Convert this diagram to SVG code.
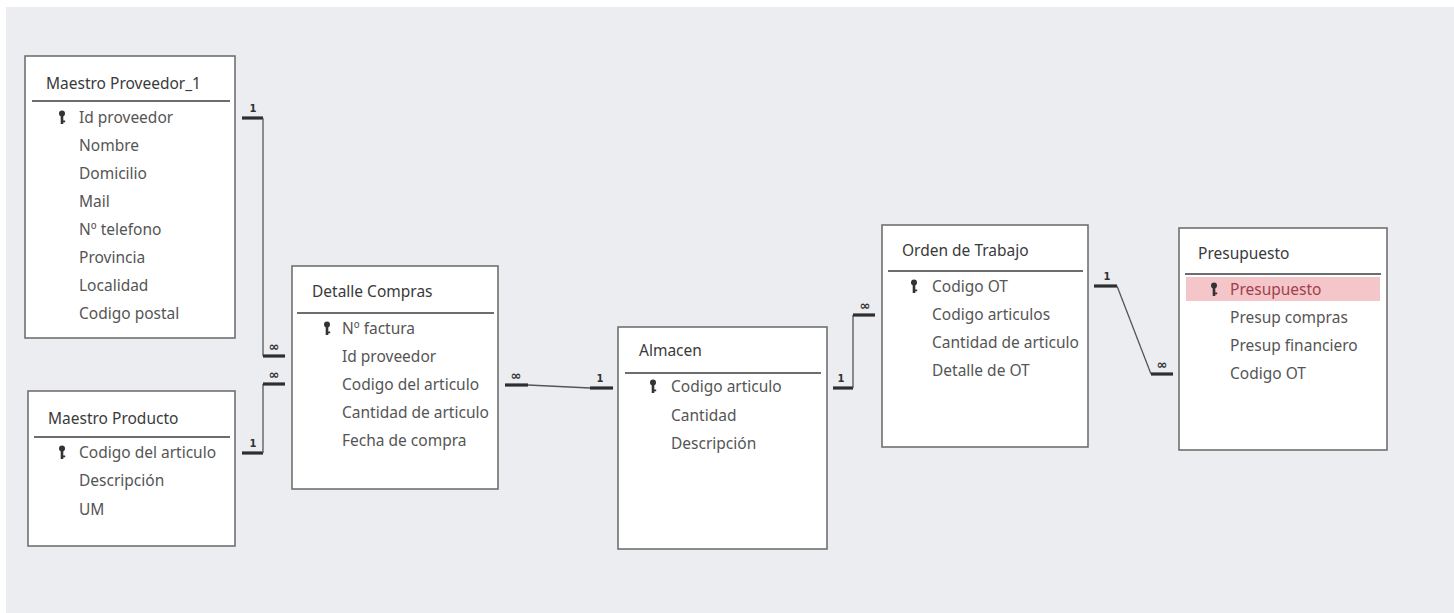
<svg xmlns="http://www.w3.org/2000/svg" width="1454" height="613" viewBox="0 0 1454 613">
<style>
.tbl{fill:#ffffff;stroke:#707070;stroke-width:1.6}
.sep{stroke:#3c3c3c;stroke-width:1.6}
.title{font-family:"Noto Sans","Open Sans",sans-serif;font-size:15.5px;fill:#3a3a3a}
.fld{font-family:"Noto Sans","Open Sans",sans-serif;font-size:15.5px;fill:#555555}
.fldhl{font-family:"Noto Sans","Open Sans",sans-serif;font-size:15.5px;fill:#a0404c}
.key{fill:#333333}
.bar{stroke:#2e2e2e;stroke-width:3.2;fill:none}
.ln{stroke:#555555;stroke-width:1.3;fill:none}
.card{font-family:"DejaVu Sans",sans-serif;font-size:10px;font-weight:bold;fill:#333333;text-anchor:middle}
.inf{font-family:"DejaVu Sans",sans-serif;font-size:13px;font-weight:bold;fill:#333333;text-anchor:middle}
</style>
<defs>
<g id="keyicon">
<circle cx="0" cy="-3.5" r="3" class="key"/>
<rect x="-1.3" y="-1" width="2.6" height="8" class="key"/>
<rect x="1" y="3.5" width="2.2" height="1.8" class="key"/>
</g>
</defs>
<rect x="0" y="0" width="1454" height="613" fill="#ffffff"/>
<rect x="6" y="7" width="1448" height="606" fill="#ecedf1"/>

<g id="maestro-proveedor">
<rect class="tbl" x="25" y="56" width="210" height="282"/>
<text class="title" x="46" y="89">Maestro Proveedor_1</text>
<line class="sep" x1="32" y1="101" x2="230" y2="101"/>
<use href="#keyicon" x="62" y="117"/>
<text class="fld" x="79" y="123">Id proveedor</text>
<text class="fld" x="79" y="151">Nombre</text>
<text class="fld" x="79" y="179">Domicilio</text>
<text class="fld" x="79" y="207">Mail</text>
<text class="fld" x="79" y="235">Nº telefono</text>
<text class="fld" x="79" y="263">Provincia</text>
<text class="fld" x="79" y="291">Localidad</text>
<text class="fld" x="79" y="319">Codigo postal</text>
</g>

<g id="maestro-producto">
<rect class="tbl" x="28" y="391" width="207" height="155"/>
<text class="title" x="48" y="424">Maestro Producto</text>
<line class="sep" x1="34" y1="437" x2="230" y2="437"/>
<use href="#keyicon" x="62" y="452"/>
<text class="fld" x="79" y="458">Codigo del articulo</text>
<text class="fld" x="79" y="486">Descripción</text>
<text class="fld" x="79" y="515">UM</text>
</g>

<g id="detalle-compras">
<rect class="tbl" x="292" y="266" width="206" height="223"/>
<text class="title" x="312" y="297">Detalle Compras</text>
<line class="sep" x1="297" y1="313" x2="494" y2="313"/>
<use href="#keyicon" x="327" y="328"/>
<text class="fld" x="342" y="334">Nº factura</text>
<text class="fld" x="342" y="362">Id proveedor</text>
<text class="fld" x="342" y="390">Codigo del articulo</text>
<text class="fld" x="342" y="418">Cantidad de articulo</text>
<text class="fld" x="342" y="446">Fecha de compra</text>
</g>

<g id="almacen">
<rect class="tbl" x="618" y="327" width="209" height="222"/>
<text class="title" x="639" y="356">Almacen</text>
<line class="sep" x1="625" y1="373" x2="821" y2="373"/>
<use href="#keyicon" x="653" y="386"/>
<text class="fld" x="671" y="392">Codigo articulo</text>
<text class="fld" x="671" y="421">Cantidad</text>
<text class="fld" x="671" y="449">Descripción</text>
</g>

<g id="orden-trabajo">
<rect class="tbl" x="882" y="225" width="206" height="222"/>
<text class="title" x="902" y="256">Orden de Trabajo</text>
<line class="sep" x1="888" y1="271" x2="1083" y2="271"/>
<use href="#keyicon" x="914" y="286"/>
<text class="fld" x="932" y="292">Codigo OT</text>
<text class="fld" x="932" y="320">Codigo articulos</text>
<text class="fld" x="932" y="348">Cantidad de articulo</text>
<text class="fld" x="932" y="376">Detalle de OT</text>
</g>

<g id="presupuesto">
<rect class="tbl" x="1179" y="228" width="208" height="222"/>
<text class="title" x="1198" y="259">Presupuesto</text>
<line class="sep" x1="1185" y1="274" x2="1381" y2="274"/>
<rect x="1186" y="277" width="194" height="24" fill="#f5c6c9"/>
<use href="#keyicon" x="1214" y="289"/>
<text class="fldhl" x="1230" y="295">Presupuesto</text>
<text class="fld" x="1230" y="323">Presup compras</text>
<text class="fld" x="1230" y="351">Presup financiero</text>
<text class="fld" x="1230" y="379">Codigo OT</text>
</g>

<g id="connectors">
<line class="bar" x1="242" y1="118" x2="263" y2="118"/>
<path class="ln" d="M263,118 V356"/>
<line class="bar" x1="263" y1="356" x2="285" y2="356"/>
<text class="card" x="253" y="112">1</text>
<text class="inf" x="274" y="351">∞</text>
<line class="bar" x1="242" y1="453" x2="263" y2="453"/>
<path class="ln" d="M263,453 V384"/>
<line class="bar" x1="263" y1="384" x2="285" y2="384"/>
<text class="card" x="253" y="447">1</text>
<text class="inf" x="274" y="379">∞</text>
<line class="bar" x1="505" y1="385" x2="528" y2="385"/>
<path class="ln" d="M528,385 L590,388"/>
<line class="bar" x1="590" y1="388" x2="613" y2="388"/>
<text class="inf" x="516" y="380">∞</text>
<text class="card" x="600" y="382">1</text>
<line class="bar" x1="833" y1="388" x2="853" y2="388"/>
<path class="ln" d="M853,388 V315"/>
<line class="bar" x1="853" y1="315" x2="875" y2="315"/>
<text class="card" x="841" y="382">1</text>
<text class="inf" x="865" y="310">∞</text>
<line class="bar" x1="1094" y1="286" x2="1117" y2="286"/>
<path class="ln" d="M1117,286 L1151,374"/>
<line class="bar" x1="1151" y1="374" x2="1173" y2="374"/>
<text class="card" x="1107" y="280">1</text>
<text class="inf" x="1162" y="369">∞</text>
</g>
</svg>
